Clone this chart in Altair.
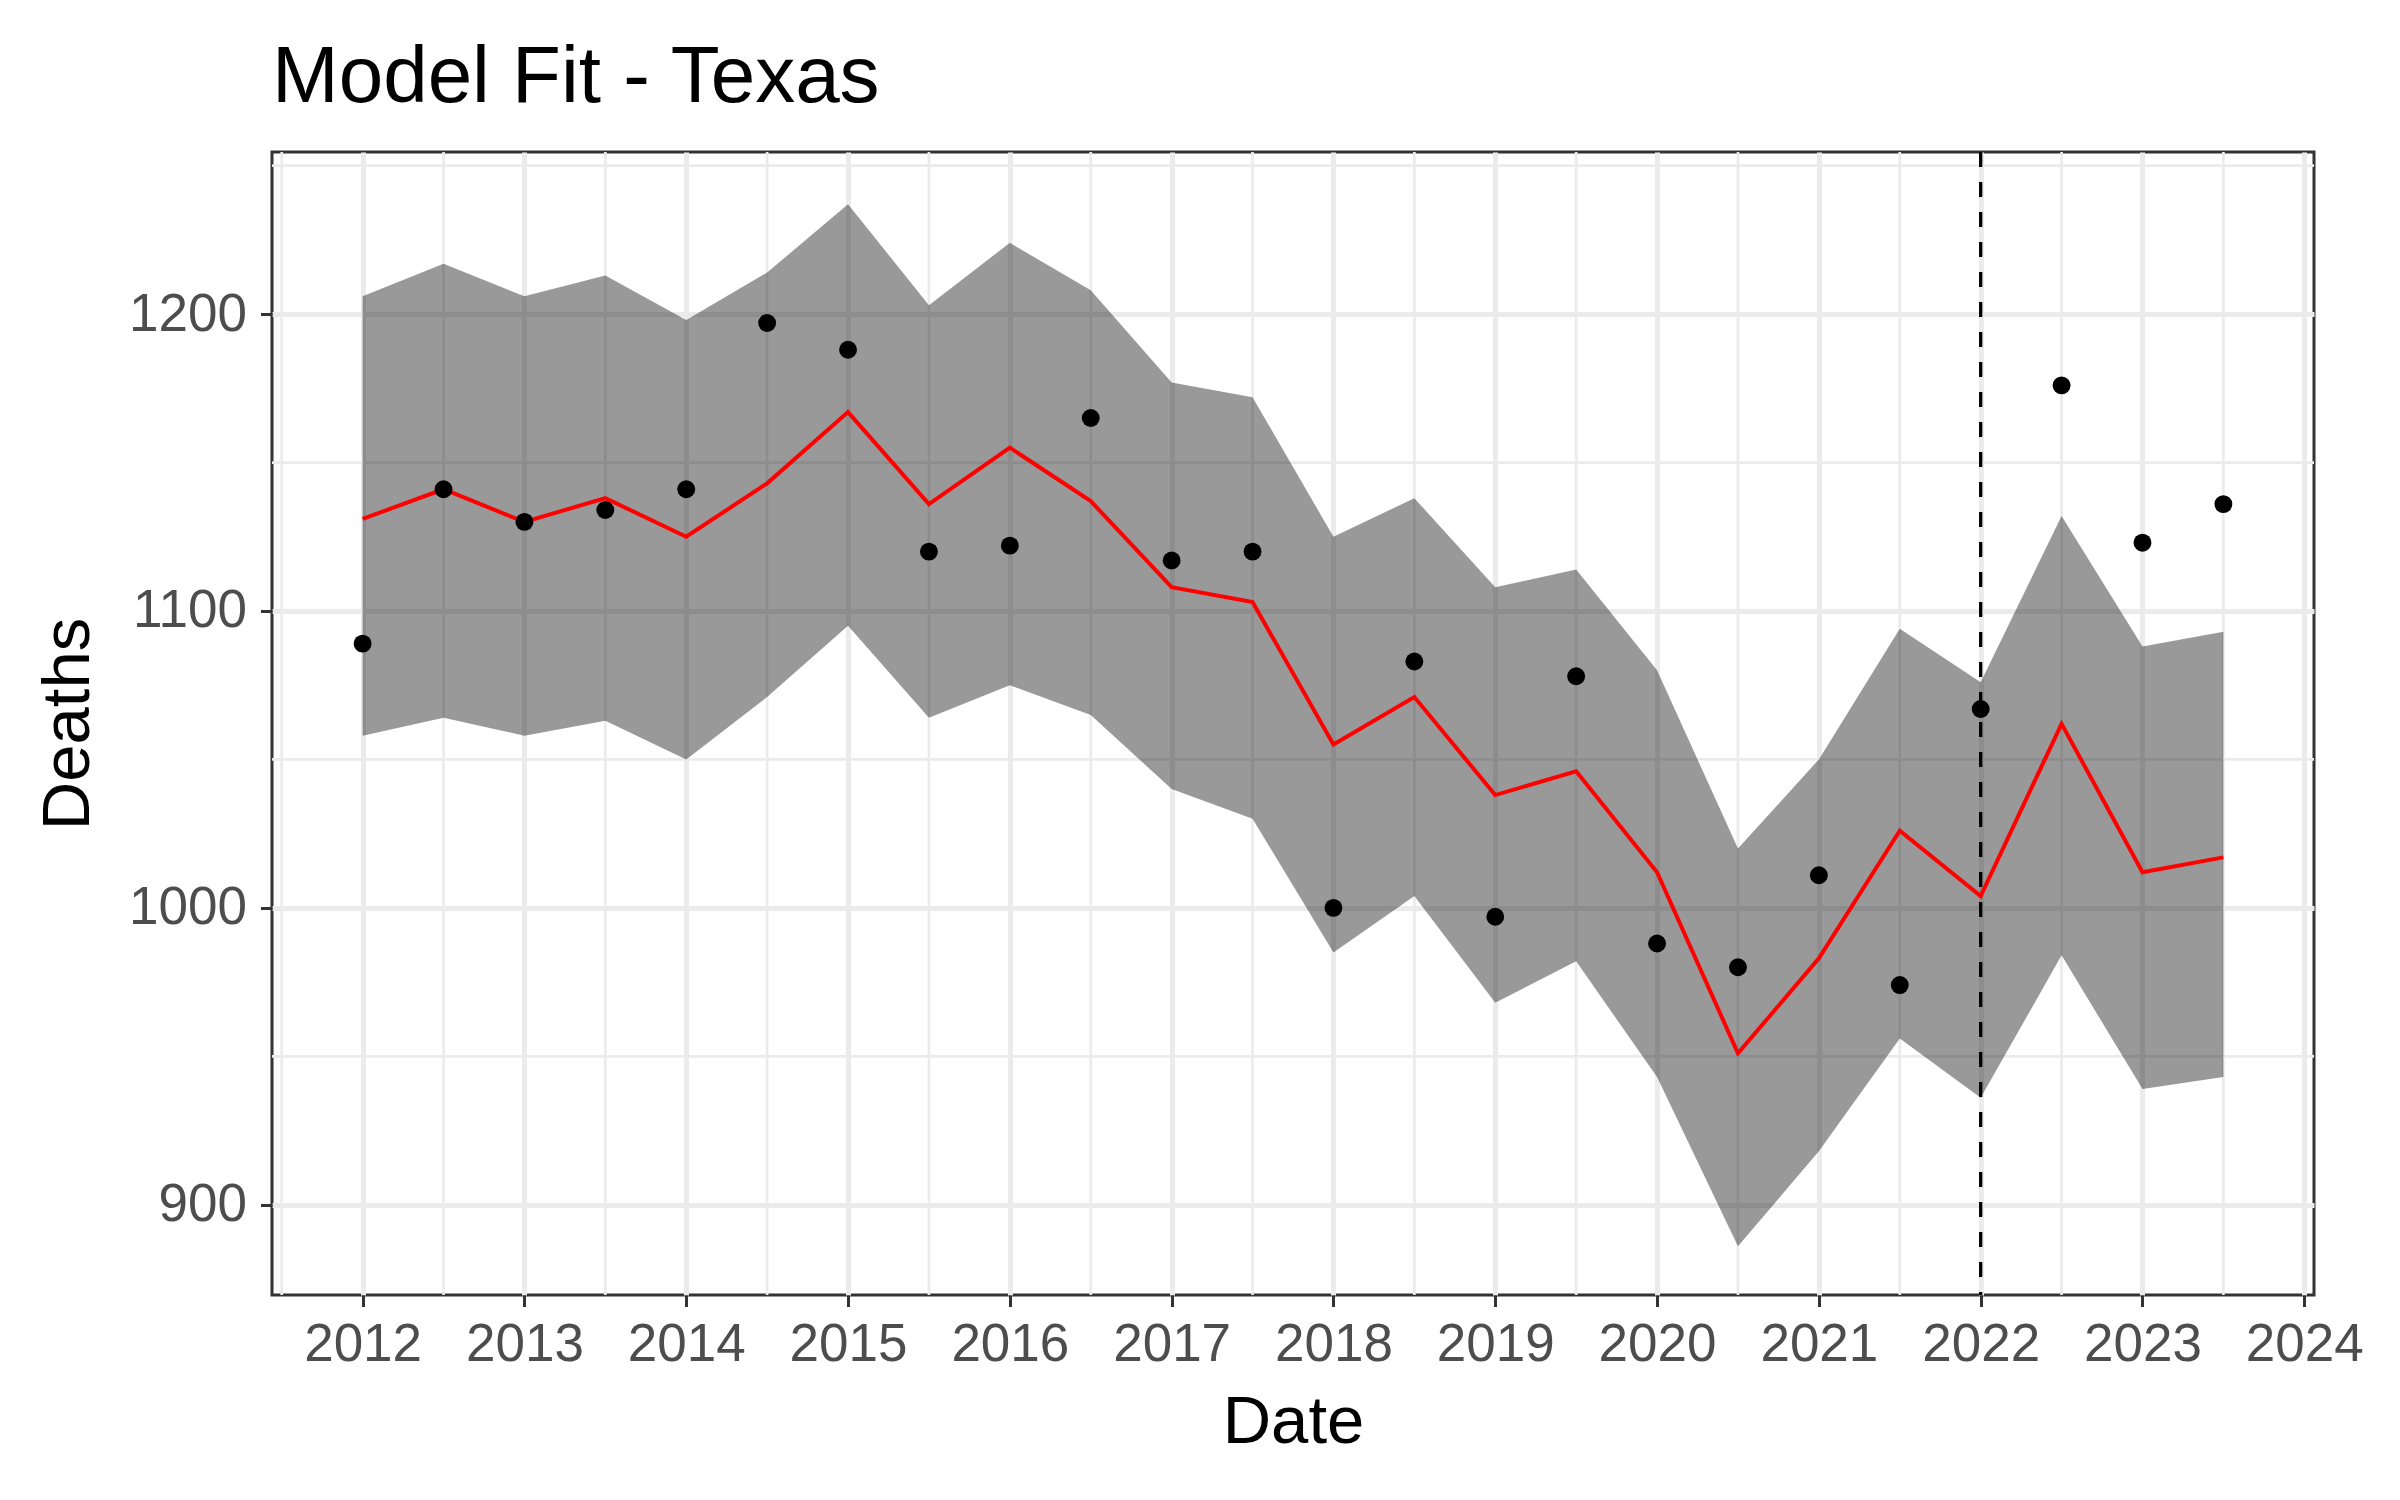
import altair as alt
import pandas as pd

# Half-yearly dates (decimal years)
dates = [2012.0, 2012.5, 2013.0, 2013.5, 2014.0, 2014.5, 2015.0, 2015.5,
         2016.0, 2016.5, 2017.0, 2017.5, 2018.0, 2018.5, 2019.0, 2019.5,
         2020.0, 2020.5, 2021.0, 2021.5, 2022.0, 2022.5, 2023.0, 2023.5]
observed = [1089, 1141, 1130, 1134, 1141, 1197, 1188, 1120,
            1122, 1165, 1117, 1120, 1000, 1083, 997, 1078,
            988, 980, 1011, 974, 1067, 1176, 1123, 1136]
fitted = [1131, 1141, 1130, 1138, 1125, 1143, 1167, 1136,
          1155, 1137, 1108, 1103, 1055, 1071, 1038, 1046,
          1012, 951, 983, 1026, 1004, 1062, 1012, 1017]
upper = [1206, 1217, 1206, 1213, 1198, 1214, 1237, 1203,
         1224, 1208, 1177, 1172, 1125, 1138, 1108, 1114,
         1080, 1020, 1050, 1094, 1076, 1132, 1088, 1093]
lower = [1058, 1064, 1058, 1063, 1050, 1071, 1095, 1064,
         1075, 1065, 1040, 1030, 985, 1004, 968, 982,
         943, 886, 918, 956, 936, 984, 939, 943]

x_ticks = list(range(2012, 2025))
y_ticks = [900, 1000, 1100, 1200]
minor_x = [2011.5 + i for i in range(13)]
minor_y = [950, 1050, 1150, 1250]
vline_x = [2022]

df = pd.DataFrame({"date": dates, "obs": observed, "fit": fitted,
                   "hi": upper, "lo": lower})

FONT = "Liberation Sans"
xscale = alt.Scale(domain=[2011.44, 2024.06], nice=False, zero=False)
yscale = alt.Scale(domain=[869.6, 1254.6], nice=False, zero=False)

xaxis = alt.Axis(values=x_ticks, format="d", title="Date",
                 grid=True, gridColor="#EBEBEB", gridWidth=5,
                 domain=False, tickColor="#333333", tickWidth=3, tickSize=11.5,
                 labelFont=FONT, labelFontSize=53, labelColor="#4D4D4D",
                 labelPadding=12, labelFlush=False,
                 titleFont=FONT, titleFontSize=67, titleFontWeight="normal",
                 titleColor="black", titlePadding=18)
yaxis = alt.Axis(values=y_ticks, format="d", title="Deaths",
                 grid=True, gridColor="#EBEBEB", gridWidth=5,
                 domain=False, tickColor="#333333", tickWidth=3, tickSize=11.5,
                 labelFont=FONT, labelFontSize=53, labelColor="#4D4D4D",
                 labelPadding=14, labelFlush=False,
                 titleFont=FONT, titleFontSize=67, titleFontWeight="normal",
                 titleColor="black", titlePadding=26)

base = alt.Chart(df)

minor_v = alt.Chart(pd.DataFrame({"mx": minor_x})).mark_rule(
    color="#EBEBEB", strokeWidth=2.7).encode(
    x=alt.X("mx:Q", scale=xscale, axis=xaxis))
minor_h = alt.Chart(pd.DataFrame({"my": minor_y})).mark_rule(
    color="#EBEBEB", strokeWidth=2.7).encode(
    y=alt.Y("my:Q", scale=yscale, axis=yaxis))

band = base.mark_area(color="black", opacity=0.4).encode(
    x=alt.X("date:Q", scale=xscale, axis=xaxis),
    y=alt.Y("lo:Q", scale=yscale, axis=yaxis),
    y2="hi:Q")

line = base.mark_line(color="red", strokeWidth=4).encode(
    x=alt.X("date:Q", scale=xscale),
    y=alt.Y("fit:Q", scale=yscale))

points = base.mark_point(filled=True, color="black", opacity=1, size=320).encode(
    x=alt.X("date:Q", scale=xscale),
    y=alt.Y("obs:Q", scale=yscale))

vline = alt.Chart(pd.DataFrame({"vx": vline_x})).mark_rule(
    color="black", strokeWidth=3.3, strokeDash=[15, 15]).encode(
    x=alt.X("vx:Q", scale=xscale))

chart = alt.layer(minor_v, minor_h, band, line, points, vline).properties(
    width=2042, height=1143,
    autosize=alt.AutoSizeParams(type="none"),
    padding={"left": 264, "top": 144, "right": 78, "bottom": 197},
    title=alt.Title("Model Fit - Texas", anchor="start", frame="group",
                    font=FONT, fontSize=80, fontWeight="normal",
                    color="black", baseline="alphabetic", offset=50, dy=82),
).configure(
    background="white",
    view=alt.ViewConfig(stroke="#333333", strokeWidth=3, fill="white"),
)

chart.save("out.html", embed_options={"renderer": "svg", "actions": False})
